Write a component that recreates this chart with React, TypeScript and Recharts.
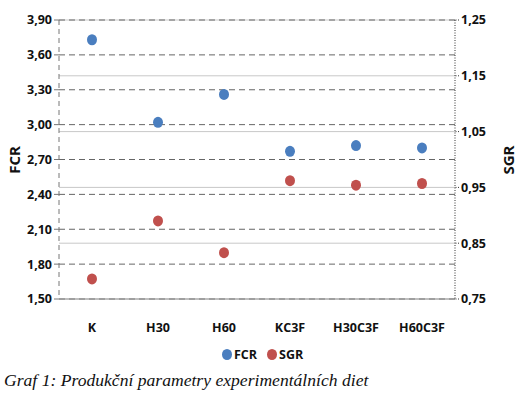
import React from "react";
import {
  ComposedChart, Line, XAxis, YAxis, CartesianGrid,
} from "recharts";

const categories = ["K", "H30", "H60", "KC3F", "H30C3F", "H60C3F"];
const fcrValues = [3.73, 3.02, 3.26, 2.77, 2.82, 2.8];
const sgrValues = [0.786, 0.89, 0.833, 0.962, 0.954, 0.957];
const fcrTicks = [1.5, 1.8, 2.1, 2.4, 2.7, 3.0, 3.3, 3.6, 3.9];
const sgrTicks = [0.75, 0.85, 0.95, 1.05, 1.15, 1.25];

const BLUE = "#4a7ebf";
const RED = "#c0504d";

const data = categories.map((name, i) => ({
  name,
  fcr: fcrValues[i],
  sgr: sgrValues[i],
}));

const fmt = (v: number) => v.toFixed(2).replace(".", ",");

const Dot = (color: string) => (props: { cx?: number; cy?: number; index?: number }) => {
  const { cx, cy, index } = props;
  if (cx == null || cy == null) return <g key={index} />;
  return <ellipse key={index} cx={cx} cy={cy} rx={5} ry={5.5} fill={color} />;
};

const tickStyle = { fill: "#111", fontSize: 12.5, fontWeight: 700, fontFamily: "'Open Sans', sans-serif" };

export default function App() {
  return (
    <div style={{ position: "absolute", left: 0, top: 0, width: 521, height: 394, background: "#fff", fontFamily: "'Open Sans', sans-serif" }}>
      <ComposedChart width={521} height={340} data={data} margin={{ top: 20, right: 20, left: 14, bottom: 11 }}>
        <CartesianGrid yAxisId="right" vertical={false} stroke="#c8c8c8" />
        <CartesianGrid yAxisId="left" vertical={false} stroke="#666" strokeDasharray="6 4" />
        <XAxis
          dataKey="name"
          height={30}
          tick={tickStyle}
          tickLine={false}
          axisLine={{ stroke: "#999" }}
          tickMargin={18}
          padding={{ left: 33, right: 33 }}
        />
        <YAxis
          yAxisId="left"
          width={45}
          domain={[1.5, 3.9]}
          ticks={fcrTicks}
          tickFormatter={fmt}
          tick={tickStyle}
          tickSize={5}
          tickLine={{ stroke: "#777" }}
          axisLine={{ stroke: "#777", strokeDasharray: "5 4" }}
          interval={0}
        />
        <YAxis
          yAxisId="right"
          orientation="right"
          width={46}
          domain={[0.75, 1.25]}
          ticks={sgrTicks}
          tickFormatter={fmt}
          tick={tickStyle}
          tickSize={4}
          tickLine={{ stroke: "#333", strokeDasharray: "1 1.5" }}
          axisLine={{ stroke: "#333", strokeDasharray: "1 1.5" }}
          interval={0}
        />
        <Line yAxisId="left" dataKey="fcr" stroke="none" dot={Dot(BLUE)} activeDot={false} isAnimationActive={false} />
        <Line yAxisId="right" dataKey="sgr" stroke="none" dot={Dot(RED)} activeDot={false} isAnimationActive={false} />
      </ComposedChart>
      <div style={{ position: "absolute", left: 0, top: 160, transform: "translate(0,-50%) rotate(-90deg)", fontWeight: 700, fontSize: 15, color: "#111" }}>
        FCR
      </div>
      <div style={{ position: "absolute", left: 493, top: 160, transform: "translate(0,-50%) rotate(-90deg)", fontWeight: 700, fontSize: 15, color: "#111" }}>
        SGR
      </div>
      <div style={{ position: "absolute", left: 222, top: 346, display: "flex", alignItems: "center", fontSize: 12.5, fontWeight: 700, color: "#111" }}>
        <span style={{ display: "inline-block", width: 10, height: 11, borderRadius: "50%", background: BLUE, marginRight: 2 }} />
        <span style={{ marginRight: 10 }}>FCR</span>
        <span style={{ display: "inline-block", width: 10, height: 11, borderRadius: "50%", background: RED, marginRight: 2 }} />
        <span>SGR</span>
      </div>
      <div style={{ position: "absolute", left: 4, top: 370, fontFamily: "'Liberation Serif', serif", fontStyle: "italic", fontSize: 17.6, color: "#111" }}>
        Graf 1: Produkční parametry experimentálních diet
      </div>
    </div>
  );
}
